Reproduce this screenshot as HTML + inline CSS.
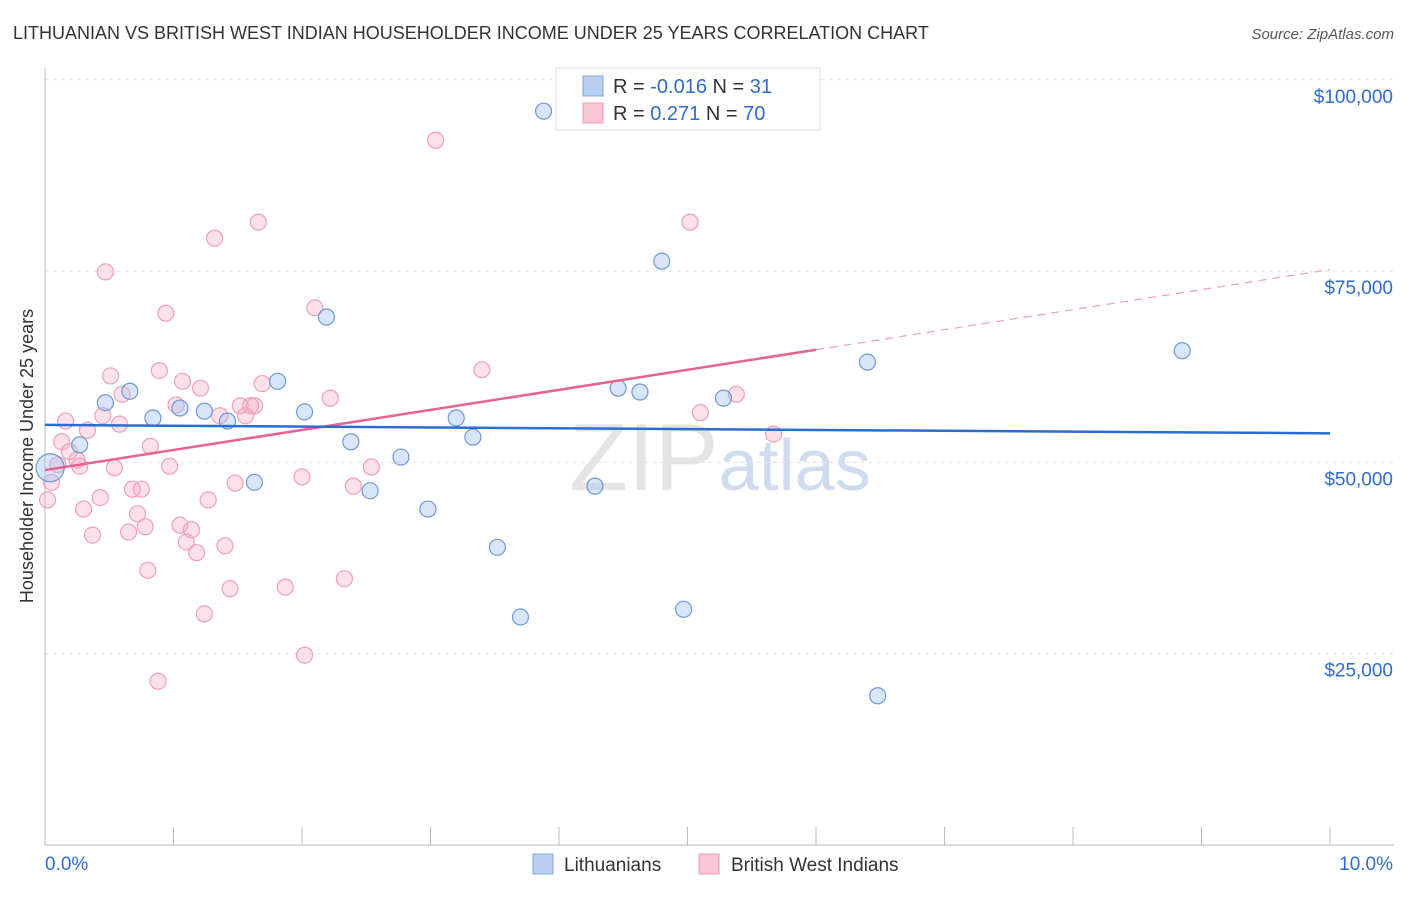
<!DOCTYPE html>
<html><head><meta charset="utf-8"><style>
body{margin:0;background:#fff;font-family:"Liberation Sans",sans-serif;}
svg text{font-family:"Liberation Sans",sans-serif;}
</style></head><body>
<svg id="chart" width="1406" height="892" xmlns="http://www.w3.org/2000/svg">
<text x="13" y="39" font-size="18" fill="#333">LITHUANIAN VS BRITISH WEST INDIAN HOUSEHOLDER INCOME UNDER 25 YEARS CORRELATION CHART</text>
<text x="1394" y="39" font-size="15" fill="#555" text-anchor="end" font-style="italic">Source: ZipAtlas.com</text>
<text x="720" y="490" font-size="96" fill="#e4e4e4" text-anchor="middle" font-family="Liberation Serif">ZIP<tspan fill="#cfdcf0" font-family="Liberation Sans" font-size="72">atlas</tspan></text>
<g id="grid"></g>
<g id="axes"></g>
<g id="marks"></g>
<text transform="translate(33,456) rotate(-90)" font-size="18" fill="#333" text-anchor="middle">Householder Income Under 25 years</text>
<g>
<rect x="556" y="68" width="264" height="62" fill="#fff" stroke="#ddd"/>
<rect x="583" y="76" width="20" height="20" fill="#b9d0f3" stroke="#7ea4e0"/>
<rect x="583" y="103" width="20" height="20" fill="#f9c6d6" stroke="#ec9ab4"/>
<text x="613" y="93" font-size="20" fill="#333">R = <tspan fill="#2f6ccf">-0.016</tspan>   N =  <tspan fill="#2f6ccf">31</tspan></text>
<text x="613" y="120" font-size="20" fill="#333">R =   <tspan fill="#2f6ccf">0.271</tspan>   N = <tspan fill="#2f6ccf">70</tspan></text>
</g>
<g>
<rect x="533" y="854" width="20" height="20" fill="#b9d0f3" stroke="#7ea4e0"/>
<text x="564" y="871" font-size="19" fill="#333">Lithuanians</text>
<rect x="699" y="854" width="20" height="20" fill="#f9c6d6" stroke="#ec9ab4"/>
<text x="731" y="871" font-size="19" fill="#333">British West Indians</text>
</g>
</svg>
<script>
const blueX=[0.04,0.27,0.47,0.66,0.84,1.05,1.24,1.42,1.63,1.81,2.02,2.19,2.38,2.53,2.77,2.98,3.20,3.33,3.52,3.70,3.88,4.28,4.46,4.63,4.80,4.97,5.28,6.40,6.48,8.85];
const blueY=[49.3,52.3,57.8,59.3,55.8,57.1,56.7,55.4,47.4,60.6,56.6,69.0,52.7,46.3,50.7,43.9,55.8,53.3,38.9,29.8,95.9,46.9,59.7,59.2,76.3,30.8,58.4,63.1,19.5,64.6];
const pinkX=[0.02,0.05,0.10,0.13,0.16,0.19,0.25,0.27,0.30,0.33,0.37,0.43,0.45,0.47,0.51,0.54,0.58,0.60,0.65,0.68,0.72,0.75,0.78,0.80,0.82,0.88,0.89,0.94,0.97,1.02,1.05,1.07,1.10,1.14,1.18,1.21,1.24,1.27,1.32,1.36,1.40,1.44,1.48,1.52,1.56,1.60,1.63,1.66,1.69,1.87,2.00,2.02,2.10,2.22,2.33,2.40,2.54,3.04,3.40,5.02,5.10,5.38,5.67];
const pinkY=[45.1,47.4,49.7,52.7,55.4,51.4,50.3,49.5,43.9,54.2,40.5,45.4,56.1,74.9,61.3,49.3,55.0,58.9,40.9,46.5,43.3,46.5,41.6,35.9,52.1,21.4,62.0,69.5,49.5,57.5,41.8,60.6,39.6,41.2,38.2,59.7,30.2,45.1,79.3,56.1,39.1,33.5,47.3,57.4,56.1,57.4,57.4,81.4,60.3,33.7,48.1,24.8,70.2,58.4,34.8,46.9,49.4,92.1,62.1,81.4,56.5,58.9,53.7];
const yTicks=[25,50,75,100];
const yTickLabels=["$25,000","$50,000","$75,000","$100,000"];
const blueTrend=[54.9,53.8];
const pinkTrend=[49.0,75.2];
const pinkSolidEnd=6.0;
const NS="http://www.w3.org/2000/svg";
const X=v=>45+v*128.5;
const Y=v=>845-v*7.652;
function mk(tag,attrs,parent){const e=document.createElementNS(NS,tag);for(const k in attrs)e.setAttribute(k,attrs[k]);parent.appendChild(e);return e;}
const grid=document.getElementById('grid'),axes=document.getElementById('axes'),marks=document.getElementById('marks');
yTicks.forEach((t,i)=>{
 const l=mk('line',{x1:45,x2:1394,y1:Y(t),y2:Y(t),stroke:'#e2e2e2','stroke-dasharray':'4,4'},grid);
 
 
 const tx=mk('text',{x:1393,y:Y(t)+23,'font-size':19,fill:'#2f6ccf','text-anchor':'end'},axes);
 tx.textContent=yTickLabels[i];
 
 
});
const ax=mk('line',{x1:45,x2:1394,y1:845,y2:845,stroke:'#bbb'},axes);


const ay=mk('line',{x1:45,x2:45,y1:68,y2:845,stroke:'#bbb'},axes);


for(let i=0;i<=10;i++){
 const t=mk('line',{x1:X(i),x2:X(i),y1:827,y2:845,stroke:'#bbb'},axes);
 
 
}
const x0=mk('text',{x:45,y:870,'font-size':19,fill:'#2f6ccf'},axes);x0.textContent='0.0%';


const x1=mk('text',{x:1393,y:870,'font-size':19,fill:'#2f6ccf','text-anchor':'end'},axes);x1.textContent='10.0%';


pinkX.forEach((x,i)=>{
 const c=mk('circle',{cx:X(x),cy:Y(pinkY[i]),r:8,fill:'rgba(246,170,195,0.35)',stroke:'#eea0b8','stroke-width':1.2},marks);
 
 
});
blueX.forEach((x,i)=>{
 const c=mk('circle',{cx:X(x),cy:Y(blueY[i]),r:i===0?14:8,fill:'rgba(160,192,240,0.4)',stroke:'#6e98d8','stroke-width':1.2},marks);
 
 
});
const pt=v=>pinkTrend[0]+(pinkTrend[1]-pinkTrend[0])*v/10;
const pl=mk('line',{x1:X(0),y1:Y(pt(0)),x2:X(pinkSolidEnd),y2:Y(pt(pinkSolidEnd)),stroke:'#e8628e','stroke-width':2.5},marks);


const pd=mk('line',{x1:X(pinkSolidEnd),y1:Y(pt(pinkSolidEnd)),x2:X(10),y2:Y(pt(10)),stroke:'#e8a0b8','stroke-width':1.2,'stroke-dasharray':'8,6'},marks);


const bl=mk('line',{x1:X(0),y1:Y(blueTrend[0]),x2:X(10),y2:Y(blueTrend[1]),stroke:'#2a6dd2','stroke-width':2.5},marks);


</script>
</body></html>
